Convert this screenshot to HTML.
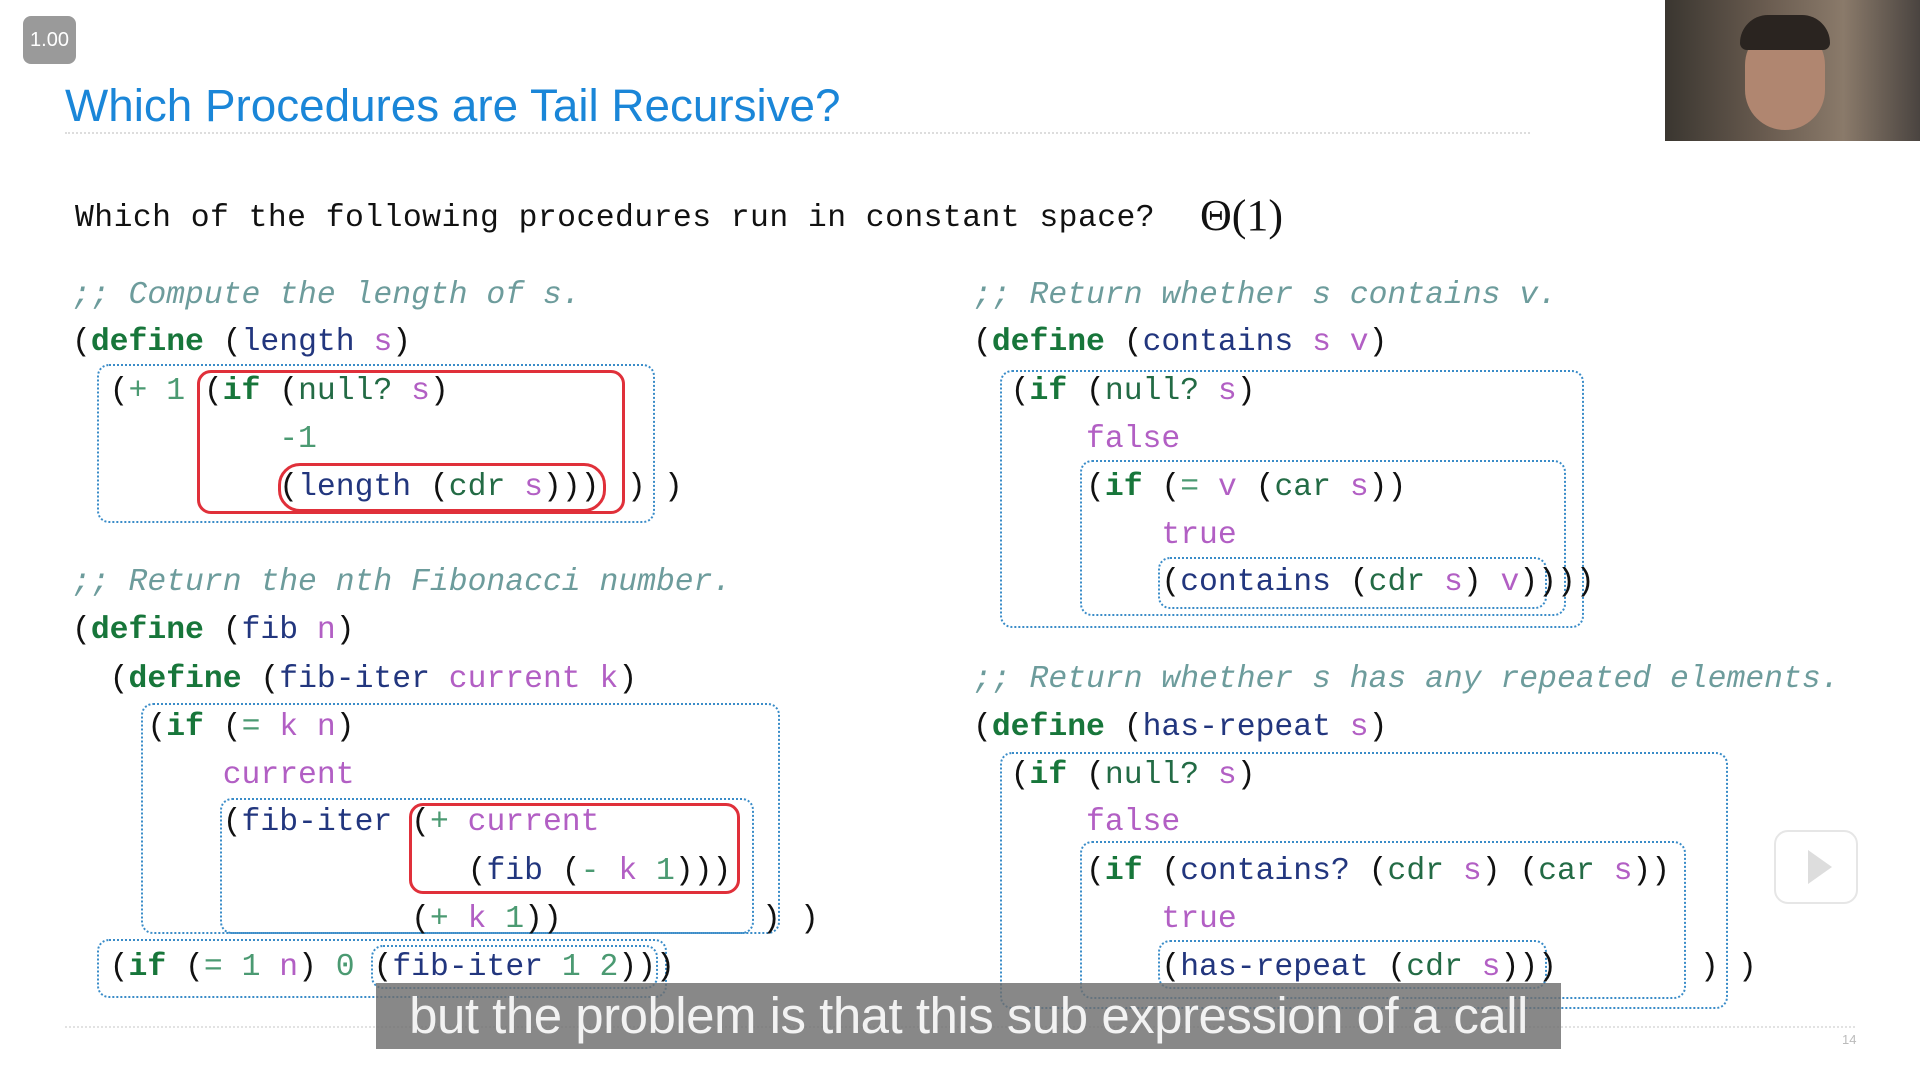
<!DOCTYPE html>
<html><head><meta charset="utf-8"><style>
body{margin:0;width:1920px;height:1080px;background:#fff;position:relative;overflow:hidden;font-family:"Liberation Sans",sans-serif}
.a{position:absolute}
.l{position:absolute;font-family:"Liberation Mono",monospace;font-size:31.4px;line-height:48px;height:48px;white-space:pre;color:#111}
.k{color:#17763a;font-weight:bold}
.f{color:#22367e}
.p{color:#b25fc4}
.b{color:#236b45}
.n{color:#4b9a72}
.c{color:#6d9c9c;font-style:italic}
.bx{position:absolute;border:2px dotted #3a8cc8;border-radius:12px;box-sizing:border-box}
.rd{position:absolute;border:3px solid #e0303a;border-radius:14px;box-sizing:border-box}
#code{position:absolute;left:0;top:3px;width:1920px;height:1080px}
</style></head><body>
<div class="a" style="left:23px;top:16px;width:53px;height:48px;background:#9a9a9a;border-radius:8px;color:#fff;font-size:20px;line-height:48px;text-align:center">1.00</div>
<div class="a" style="left:65px;top:80px;font-size:45.8px;color:#1a86d8;white-space:nowrap">Which Procedures are Tail Recursive?</div>
<div class="a" style="left:65px;top:132px;width:1465px;border-top:2px dotted #ddd"></div>
<div class="a" style="left:1665px;top:0;width:255px;height:141px;background:linear-gradient(90deg,#3a3630,#6a5c50 40%,#8a7a6a 70%,#4a4440)"></div>
<div class="a" style="left:1745px;top:25px;width:80px;height:105px;background:#b08670;border-radius:40px"></div>
<div class="a" style="left:1740px;top:15px;width:90px;height:35px;background:#2a2420;border-radius:40px 40px 10px 10px"></div>

<div class="l" style="left:75px;top:195px;letter-spacing:0.45px">Which of the following procedures run in constant space?</div>
<div class="a" style="left:1200px;top:191px;font-family:'Liberation Serif',serif;font-size:44px;line-height:50px;color:#111">Θ(1)</div>

<div class="bx" style="left:97px;top:364px;width:558px;height:159px"></div>
<div class="rd" style="left:197px;top:370px;width:428px;height:144px"></div>
<div class="rd" style="left:278px;top:463px;width:328px;height:49px;border-radius:22px"></div>

<div class="bx" style="left:141px;top:703px;width:639px;height:231px"></div>
<div class="bx" style="left:220px;top:798px;width:534px;height:136px"></div>
<div class="rd" style="left:409px;top:803px;width:331px;height:91px"></div>
<div class="bx" style="left:97px;top:939px;width:570px;height:59px"></div>
<div class="bx" style="left:371px;top:945px;width:287px;height:44px"></div>

<div class="bx" style="left:1000px;top:370px;width:584px;height:258px"></div>
<div class="bx" style="left:1080px;top:460px;width:486px;height:156px"></div>
<div class="bx" style="left:1158px;top:557px;width:389px;height:52px"></div>
<div class="bx" style="left:1000px;top:752px;width:728px;height:257px"></div>
<div class="bx" style="left:1080px;top:841px;width:606px;height:158px"></div>
<div class="bx" style="left:1158px;top:940px;width:389px;height:49px"></div>

<div id="code">
<div class="l c" style="left:72px;top:269px">;; Compute the length of s.</div>
<div class="l" style="left:72px;top:316px">(<span class="k">define</span> (<span class="f">length</span> <span class="p">s</span>)</div>
<div class="l" style="left:72px;top:365px">  (<span class="n">+ 1</span> (<span class="k">if</span> (<span class="b">null?</span> <span class="p">s</span>)</div>
<div class="l n" style="left:72px;top:413px">           -1</div>
<div class="l" style="left:72px;top:461px">           (<span class="f">length</span> (<span class="b">cdr</span> <span class="p">s</span>)))</div>
<div class="l" style="left:627px;top:461px">)</div>
<div class="l" style="left:664px;top:461px">)</div>

<div class="l c" style="left:72px;top:556px">;; Return the nth Fibonacci number.</div>
<div class="l" style="left:72px;top:604px">(<span class="k">define</span> (<span class="f">fib</span> <span class="p">n</span>)</div>
<div class="l" style="left:72px;top:653px">  (<span class="k">define</span> (<span class="f">fib-iter</span> <span class="p">current k</span>)</div>
<div class="l" style="left:72px;top:701px">    (<span class="k">if</span> (<span class="n">=</span> <span class="p">k n</span>)</div>
<div class="l p" style="left:72px;top:749px">        current</div>
<div class="l" style="left:72px;top:796px">        (<span class="f">fib-iter</span> (<span class="n">+</span> <span class="p">current</span></div>
<div class="l" style="left:72px;top:845px">                     (<span class="f">fib</span> (<span class="n">-</span> <span class="p">k</span> <span class="n">1</span>)))</div>
<div class="l" style="left:72px;top:893px">                  (<span class="n">+</span> <span class="p">k</span> <span class="n">1</span>))</div>
<div class="l" style="left:762px;top:893px">)</div>
<div class="l" style="left:800px;top:893px">)</div>
<div class="l" style="left:72px;top:941px">  (<span class="k">if</span> (<span class="n">= 1</span> <span class="p">n</span>) <span class="n">0</span> (<span class="f">fib-iter</span> <span class="n">1 2</span>)))</div>

<div class="l c" style="left:973px;top:269px">;; Return whether s contains v.</div>
<div class="l" style="left:973px;top:316px">(<span class="k">define</span> (<span class="f">contains</span> <span class="p">s v</span>)</div>
<div class="l" style="left:973px;top:365px">  (<span class="k">if</span> (<span class="b">null?</span> <span class="p">s</span>)</div>
<div class="l p" style="left:973px;top:413px">      false</div>
<div class="l" style="left:973px;top:461px">      (<span class="k">if</span> (<span class="n">=</span> <span class="p">v</span> (<span class="b">car</span> <span class="p">s</span>))</div>
<div class="l p" style="left:973px;top:509px">          true</div>
<div class="l" style="left:973px;top:556px">          (<span class="f">contains</span> (<span class="b">cdr</span> <span class="p">s</span>) <span class="p">v</span>))))</div>

<div class="l c" style="left:973px;top:653px">;; Return whether s has any repeated elements.</div>
<div class="l" style="left:973px;top:701px">(<span class="k">define</span> (<span class="f">has-repeat</span> <span class="p">s</span>)</div>
<div class="l" style="left:973px;top:749px">  (<span class="k">if</span> (<span class="b">null?</span> <span class="p">s</span>)</div>
<div class="l p" style="left:973px;top:796px">      false</div>
<div class="l" style="left:973px;top:845px">      (<span class="k">if</span> (<span class="f">contains?</span> (<span class="b">cdr</span> <span class="p">s</span>) (<span class="b">car</span> <span class="p">s</span>))</div>
<div class="l p" style="left:973px;top:893px">          true</div>
<div class="l" style="left:973px;top:941px">          (<span class="f">has-repeat</span> (<span class="b">cdr</span> <span class="p">s</span>)))</div>
<div class="l" style="left:1700px;top:941px">)</div>
<div class="l" style="left:1738px;top:941px">)</div>
</div>

<div class="a" style="left:65px;top:1026px;width:1790px;border-top:2px dotted #e2e2e2"></div>
<div class="a" style="left:1842px;top:1032px;font-size:13px;color:#bbb">14</div>

<div class="a" style="left:1774px;top:830px;width:84px;height:74px;background:#fff;border:2px solid #e6e6e6;border-radius:14px;box-sizing:border-box"></div>
<div class="a" style="left:1808px;top:850px;width:0;height:0;border-left:24px solid #ddd;border-top:17px solid transparent;border-bottom:17px solid transparent"></div>

<div class="a" style="left:376px;top:983px;width:1185px;height:66px;background:rgba(110,110,110,0.82);color:#f2f2f2;font-size:51px;line-height:66px;text-align:center;white-space:nowrap;letter-spacing:-0.5px">but the problem is that this sub expression of a call</div>
</body></html>
